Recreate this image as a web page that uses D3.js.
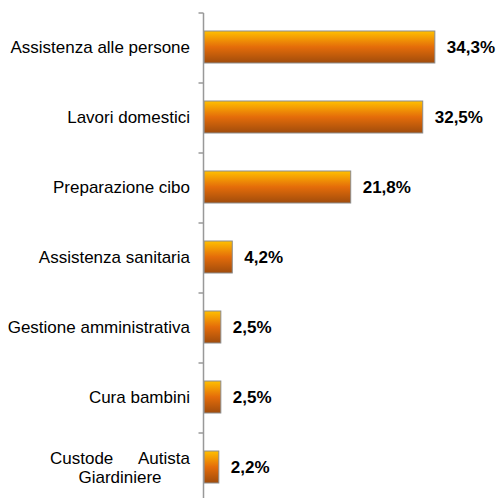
<!DOCTYPE html>
<html>
<head>
<meta charset="utf-8">
<script src="https://cdn.jsdelivr.net/npm/d3@7"></script>
<style>
  body { margin: 0; background: #fff; }
  svg { display: block; font-family: "Liberation Sans", Arial, sans-serif; }
</style>
</head>
<body>
<div id="chart"></div>
<script>
const categories = [
  'Assistenza alle persone',
  'Lavori domestici',
  'Preparazione cibo',
  'Assistenza sanitaria',
  'Gestione amministrativa',
  'Cura bambini',
  'Custode Autista Giardiniere'
];
const values = [34.3, 32.5, 21.8, 4.2, 2.5, 2.5, 2.2];
const valueLabels = ['34,3%', '32,5%', '21,8%', '4,2%', '2,5%', '2,5%', '2,2%'];

const width = 501, height = 498;
const margin = { top: 12, right: 0, bottom: 0, left: 204 };

const svg = d3.select('#chart').append('svg')
  .attr('width', width)
  .attr('height', height);

const defs = svg.append('defs');
const grad = defs.append('linearGradient')
  .attr('id', 'barGrad')
  .attr('x1', 0).attr('y1', 0).attr('x2', 0).attr('y2', 1);
grad.append('stop').attr('offset', '0%').attr('stop-color', '#ffc000');
grad.append('stop').attr('offset', '50%').attr('stop-color', '#e46c0a');
grad.append('stop').attr('offset', '100%').attr('stop-color', '#a04c0c');

// 6.73 px per percentage point
const x = d3.scaleLinear()
  .domain([0, 100])
  .range([margin.left, margin.left + 673]);

const y = d3.scaleBand()
  .domain(categories)
  .range([margin.top, margin.top + 70 * categories.length])
  .paddingInner(0.543)
  .paddingOuter(0.2715);

// Bars
svg.selectAll('rect.bar')
  .data(values)
  .enter().append('rect')
  .attr('class', 'bar')
  .attr('x', x(0))
  .attr('y', (d, i) => y(categories[i]))
  .attr('width', d => x(d) - x(0))
  .attr('height', y.bandwidth())
  .style('fill', 'url(#barGrad)')
  .style('stroke', '#8c8c8c')
  .style('stroke-width', 1);

// Value labels
svg.selectAll('text.val')
  .data(values)
  .enter().append('text')
  .attr('class', 'val')
  .attr('x', d => x(d) + 12)
  .attr('y', (d, i) => y(categories[i]) + y.bandwidth() / 2)
  .attr('dy', '0.35em')
  .style('font-size', '17px')
  .style('font-weight', 'bold')
  .style('fill', '#000')
  .text((d, i) => valueLabels[i]);

// Axis line with ticks between categories
const axisX = margin.left - 0.5;
const step = y.step();
svg.append('line')
  .attr('x1', axisX).attr('x2', axisX)
  .attr('y1', margin.top + 1).attr('y2', height)
  .style('stroke', '#999')
  .style('stroke-width', 1.5);

d3.range(categories.length).forEach(i => {
  const ty = margin.top + 1 + i * step;
  svg.append('line')
    .attr('x1', axisX - 5).attr('x2', axisX)
    .attr('y1', ty).attr('y2', ty)
    .style('stroke', '#999')
    .style('stroke-width', 1.5);
});

// Category labels
categories.forEach((c, i) => {
  const cy = y(c) + y.bandwidth() / 2;
  if (c === 'Custode Autista Giardiniere') {
    const words = c.split(' ');
    svg.append('text')
      .attr('x', 50).attr('y', cy - 9).attr('dy', '0.35em')
      .attr('text-anchor', 'start')
      .style('font-size', '17px')
      .text(words[0]);
    svg.append('text')
      .attr('x', 190).attr('y', cy - 9).attr('dy', '0.35em')
      .attr('text-anchor', 'end')
      .style('font-size', '17px')
      .text(words[1]);
    svg.append('text')
      .attr('x', 120).attr('y', cy + 10).attr('dy', '0.35em')
      .attr('text-anchor', 'middle')
      .style('font-size', '17px')
      .text(words[2]);
  } else {
    svg.append('text')
      .attr('x', 190)
      .attr('y', cy)
      .attr('dy', '0.35em')
      .attr('text-anchor', 'end')
      .style('font-size', '17px')
      .style('fill', '#000')
      .text(c);
  }
});
</script>
</body>
</html>
